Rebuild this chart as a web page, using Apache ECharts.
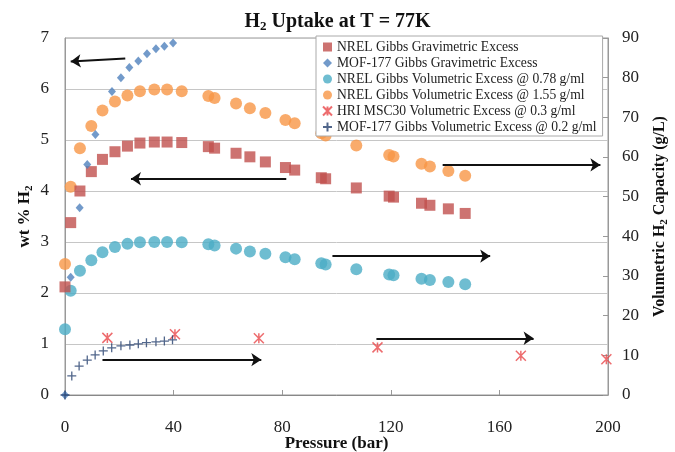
<!DOCTYPE html>
<html><head><meta charset="utf-8">
<script src="https://cdn.jsdelivr.net/npm/echarts@6/dist/echarts.min.js"></script>
<style>html,body{margin:0;padding:0;background:#fff}#c{width:675px;height:452px}</style>
</head><body><div id="c"></div>
<script>
// ---- data (pressure in bar; gravimetric in wt %; volumetric in g/L) ----
const pressureNREL = [0, 2.1, 5.5, 9.7, 13.8, 18.4, 23.0, 27.6, 32.9, 37.6, 43.0, 52.8, 55.1, 63.0, 68.1, 73.8, 81.2, 84.6, 94.4, 96.0, 107.3, 119.4, 121.0, 131.3, 134.4, 141.2, 147.4];
const nrelGravExcess = [2.12, 3.38, 4.00, 4.38, 4.62, 4.77, 4.88, 4.94, 4.96, 4.96, 4.95, 4.87, 4.84, 4.74, 4.67, 4.57, 4.46, 4.41, 4.26, 4.24, 4.06, 3.90, 3.88, 3.76, 3.72, 3.65, 3.56];
const nrelVol078 = [16.6, 26.3, 31.3, 34.0, 36.0, 37.3, 38.1, 38.5, 38.6, 38.6, 38.5, 38.0, 37.7, 36.9, 36.2, 35.6, 34.7, 34.2, 33.2, 32.9, 31.7, 30.4, 30.2, 29.3, 29.0, 28.5, 27.9];
const nrelVol155 = [33.0, 52.5, 62.2, 67.8, 71.7, 74.0, 75.5, 76.6, 77.0, 77.0, 76.6, 75.4, 74.9, 73.5, 72.3, 71.1, 69.3, 68.5, 66.0, 65.4, 62.9, 60.5, 60.1, 58.3, 57.6, 56.5, 55.3];
const pressureMOFGrav = [0, 2.1, 5.4, 8.2, 11.2, 17.3, 20.6, 23.7, 27.0, 30.2, 33.5, 36.6, 39.8];
const mofGravExcess = [0, 2.31, 3.67, 4.52, 5.11, 5.95, 6.22, 6.42, 6.55, 6.69, 6.79, 6.84, 6.90];
const pressureMOFVol = [0, 2.5, 5.2, 8.2, 11.1, 14.1, 17.2, 20.6, 23.9, 27.0, 30.0, 33.5, 36.6, 39.6];
const mofVolExcess = [0, 4.8, 7.3, 8.8, 10.1, 11.1, 11.9, 12.4, 12.6, 12.9, 13.2, 13.4, 13.6, 13.9];
const pressureHRI = [15.6, 40.5, 71.4, 115.1, 167.9, 199.4];
const hriVolExcess = [14.4, 15.3, 14.3, 12.0, 9.9, 9.0];
// annotation arrows [fromX, fromY, toX, toY] in axis units
const leftArrows = [[22.2, 6.60, 2.1, 6.54], [81.5, 4.24, 24.3, 4.24]];
const rightArrows = [[139.1, 58.0, 197.2, 58.0], [98.5, 35.0, 156.6, 35.0], [13.8, 8.9, 72.3, 8.9], [114.7, 14.3, 172.6, 14.3]];
const seriesNames = [
  'NREL Gibbs Gravimetric Excess',
  'MOF-177 Gibbs Gravimetric Excess',
  'NREL Gibbs Volumetric Excess @ 0.78 g/ml',
  'NREL Gibbs Volumetric Excess @ 1.55 g/ml',
  'HRI MSC30 Volumetric Excess @ 0.3 g/ml',
  'MOF-177 Gibbs Volumetric Excess @ 0.2 g/ml'
];

const serif = '"Liberation Serif", "Times New Roman", serif';
const pairs = (xs, ys) => xs.map((x, i) => [x, ys[i]]);
const arrowMark = list => ({
  silent: true, animation: false,
  symbol: ['none', 'arrow'], symbolSize: 10,
  label: { show: false },
  lineStyle: { color: '#111', width: 2, type: 'solid' },
  emphasis: { disabled: true },
  data: list.map(a => [{ coord: [a[0], a[1]] }, { coord: [a[2], a[3]] }])
});
const subRich = {
  s: { fontFamily: serif, fontWeight: 'bold', fontSize: 11, padding: [9, 0, 0, 0], color: '#111' }
};

const chart = echarts.init(document.getElementById('c'));
chart.setOption({
  animation: false,
  backgroundColor: '#fff',
  title: {
    text: 'H{s|2} Uptake at T = 77K',
    left: 'center', top: 5,
    textStyle: {
      fontFamily: serif, fontWeight: 'bold', fontSize: 20, color: '#111',
      rich: { s: { fontFamily: serif, fontWeight: 'bold', fontSize: 13, padding: [10, 0, 0, 0], color: '#111' } }
    }
  },
  grid: { left: 65, right: 67, top: 38, bottom: 57, containLabel: false, outerBoundsMode: 'none',
          show: true, borderColor: '#999', borderWidth: 1 },
  legend: {
    orient: 'vertical', left: 316, top: 36,
    padding: [4, 6, 2, 6], itemGap: 2, itemWidth: 9, itemHeight: 9,
    backgroundColor: '#fff', borderColor: '#aaa', borderWidth: 1,
    textStyle: { fontFamily: serif, fontSize: 13.6, lineHeight: 14, color: '#222' },
    data: seriesNames
  },
  xAxis: {
    type: 'value', min: 0, max: 200, interval: 40,
    axisLine: { show: true, lineStyle: { color: '#888' } },
    axisTick: { show: true, inside: true, length: 5, lineStyle: { color: '#999' } },
    splitLine: { show: false },
    axisLabel: { fontFamily: serif, fontSize: 17, color: '#222', margin: 24 },
    name: 'Pressure (bar)', nameLocation: 'middle', nameGap: 40, nameMoveOverlap: false,
    nameTextStyle: { fontFamily: serif, fontWeight: 'bold', fontSize: 17, color: '#111' }
  },
  yAxis: [{
    type: 'value', min: 0, max: 7, interval: 1,
    axisLine: { show: true, lineStyle: { color: '#999' } },
    axisTick: { show: false },
    splitLine: { show: true, lineStyle: { color: '#c6c6c6', width: 1 } },
    axisLabel: { fontFamily: serif, fontSize: 17, color: '#222', margin: 16 },
    name: 'wt % H{s|2}', nameLocation: 'middle', nameGap: 30, nameRotate: 90, nameMoveOverlap: false,
    nameTextStyle: { fontFamily: serif, fontWeight: 'bold', fontSize: 17, color: '#111', rich: subRich }
  }, {
    type: 'value', min: 0, max: 90, interval: 10, position: 'right',
    axisLine: { show: true, lineStyle: { color: '#999' } },
    axisTick: { show: true, inside: true, length: 5, lineStyle: { color: '#999' } },
    splitLine: { show: false },
    axisLabel: { fontFamily: serif, fontSize: 17, color: '#222', margin: 14 },
    name: 'Volumetric H{s|2} Capacity (g/L)', nameLocation: 'middle', nameGap: 42, nameRotate: 90, nameMoveOverlap: false,
    nameTextStyle: { fontFamily: serif, fontWeight: 'bold', fontSize: 16, color: '#111', rich: subRich }
  }],
  series: [{
    name: seriesNames[0], type: 'scatter', yAxisIndex: 0, z: 5,
    symbol: 'rect', symbolSize: 11,
    itemStyle: { color: '#C0504D' },
    data: pairs(pressureNREL, nrelGravExcess),
    markLine: arrowMark(leftArrows)
  }, {
    name: seriesNames[1], type: 'scatter', yAxisIndex: 0, z: 6,
    symbol: 'diamond', symbolSize: [8, 9],
    itemStyle: { color: '#4F81BD' },
    data: pairs(pressureMOFGrav, mofGravExcess)
  }, {
    name: seriesNames[2], type: 'scatter', yAxisIndex: 1, z: 3,
    symbol: 'circle', symbolSize: 12,
    itemStyle: { color: '#4BACC6' },
    data: pairs(pressureNREL, nrelVol078)
  }, {
    name: seriesNames[3], type: 'scatter', yAxisIndex: 1, z: 3,
    symbol: 'circle', symbolSize: 12,
    itemStyle: { color: '#F79646' },
    data: pairs(pressureNREL, nrelVol155),
    markLine: arrowMark(rightArrows)
  }, {
    name: seriesNames[4], type: 'scatter', yAxisIndex: 1, z: 7,
    symbol: 'path://M0,0L10,10M10,0L0,10M5,0L5,10', symbolSize: 10,
    itemStyle: { color: 'rgba(0,0,0,0)', borderColor: '#E8474A', borderWidth: 1.5 },
    data: pairs(pressureHRI, hriVolExcess)
  }, {
    name: seriesNames[5], type: 'scatter', yAxisIndex: 1, z: 7,
    symbol: 'path://M5,0L5,10M0,5L10,5', symbolSize: 9,
    itemStyle: { color: 'rgba(0,0,0,0)', borderColor: '#25406E', borderWidth: 1.3 },
    data: pairs(pressureMOFVol, mofVolExcess)
  }]
});
</script>
</body></html>
